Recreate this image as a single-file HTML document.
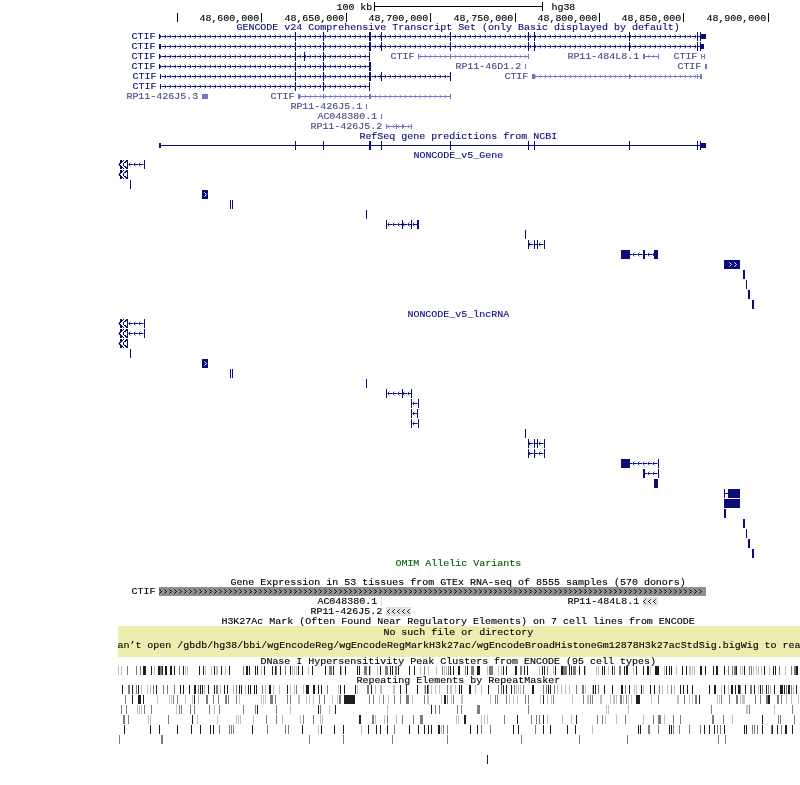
<!DOCTYPE html>
<html><head><meta charset="utf-8"><style>
html,body{margin:0;padding:0;background:#fff;width:800px;height:785px;overflow:hidden}
svg{display:block;will-change:transform}
text{font-family:"Liberation Mono",monospace;font-size:9px;letter-spacing:0px}
</style></head><body><svg width="800" height="785" viewBox="0 0 800 785" shape-rendering="crispEdges" font-family='"Liberation Mono", monospace' font-size="9" letter-spacing="0" stroke-width="0.12"><defs><pattern id="p1" patternUnits="userSpaceOnUse" x="-1" y="34" width="5" height="5"><rect x="0" y="0" width="1" height="1" fill="#b4b4e2"/><rect x="1" y="1" width="1" height="1" fill="#4444a0"/><rect x="1" y="3" width="1" height="1" fill="#4444a0"/><rect x="0" y="4" width="1" height="1" fill="#b4b4e2"/><rect x="2" y="2" width="1" height="1" fill="#8080c8"/></pattern><pattern id="p2" patternUnits="userSpaceOnUse" x="-1" y="44" width="5" height="5"><rect x="0" y="0" width="1" height="1" fill="#b4b4e2"/><rect x="1" y="1" width="1" height="1" fill="#4444a0"/><rect x="1" y="3" width="1" height="1" fill="#4444a0"/><rect x="0" y="4" width="1" height="1" fill="#b4b4e2"/><rect x="2" y="2" width="1" height="1" fill="#8080c8"/></pattern><pattern id="p3" patternUnits="userSpaceOnUse" x="-1" y="54" width="5" height="5"><rect x="0" y="0" width="1" height="1" fill="#b4b4e2"/><rect x="1" y="1" width="1" height="1" fill="#4444a0"/><rect x="1" y="3" width="1" height="1" fill="#4444a0"/><rect x="0" y="4" width="1" height="1" fill="#b4b4e2"/><rect x="2" y="2" width="1" height="1" fill="#8080c8"/></pattern><pattern id="p4" patternUnits="userSpaceOnUse" x="-1" y="54" width="5" height="5"><rect x="0" y="0" width="1" height="1" fill="#d0d0f0"/><rect x="1" y="1" width="1" height="1" fill="#9c9cdc"/><rect x="1" y="3" width="1" height="1" fill="#9c9cdc"/><rect x="0" y="4" width="1" height="1" fill="#d0d0f0"/><rect x="2" y="2" width="1" height="1" fill="#7474cc"/></pattern><pattern id="p5" patternUnits="userSpaceOnUse" x="2" y="54" width="5" height="5"><rect x="2" y="0" width="1" height="1" fill="#d0d0f0"/><rect x="1" y="1" width="1" height="1" fill="#9c9cdc"/><rect x="1" y="3" width="1" height="1" fill="#9c9cdc"/><rect x="2" y="4" width="1" height="1" fill="#d0d0f0"/><rect x="0" y="2" width="1" height="1" fill="#7474cc"/></pattern><pattern id="p6" patternUnits="userSpaceOnUse" x="-1" y="64" width="5" height="5"><rect x="0" y="0" width="1" height="1" fill="#b4b4e2"/><rect x="1" y="1" width="1" height="1" fill="#4444a0"/><rect x="1" y="3" width="1" height="1" fill="#4444a0"/><rect x="0" y="4" width="1" height="1" fill="#b4b4e2"/><rect x="2" y="2" width="1" height="1" fill="#8080c8"/></pattern><pattern id="p7" patternUnits="userSpaceOnUse" x="-1" y="74" width="5" height="5"><rect x="0" y="0" width="1" height="1" fill="#b4b4e2"/><rect x="1" y="1" width="1" height="1" fill="#4444a0"/><rect x="1" y="3" width="1" height="1" fill="#4444a0"/><rect x="0" y="4" width="1" height="1" fill="#b4b4e2"/><rect x="2" y="2" width="1" height="1" fill="#8080c8"/></pattern><pattern id="p8" patternUnits="userSpaceOnUse" x="-1" y="74" width="5" height="5"><rect x="0" y="0" width="1" height="1" fill="#d0d0f0"/><rect x="1" y="1" width="1" height="1" fill="#9c9cdc"/><rect x="1" y="3" width="1" height="1" fill="#9c9cdc"/><rect x="0" y="4" width="1" height="1" fill="#d0d0f0"/><rect x="2" y="2" width="1" height="1" fill="#7474cc"/></pattern><pattern id="p9" patternUnits="userSpaceOnUse" x="-1" y="84" width="5" height="5"><rect x="0" y="0" width="1" height="1" fill="#b4b4e2"/><rect x="1" y="1" width="1" height="1" fill="#4444a0"/><rect x="1" y="3" width="1" height="1" fill="#4444a0"/><rect x="0" y="4" width="1" height="1" fill="#b4b4e2"/><rect x="2" y="2" width="1" height="1" fill="#8080c8"/></pattern><pattern id="p10" patternUnits="userSpaceOnUse" x="-1" y="94" width="5" height="5"><rect x="0" y="0" width="1" height="1" fill="#d0d0f0"/><rect x="1" y="1" width="1" height="1" fill="#9c9cdc"/><rect x="1" y="3" width="1" height="1" fill="#9c9cdc"/><rect x="0" y="4" width="1" height="1" fill="#d0d0f0"/><rect x="2" y="2" width="1" height="1" fill="#7474cc"/></pattern><pattern id="p11" patternUnits="userSpaceOnUse" x="2" y="124" width="5" height="5"><rect x="2" y="0" width="1" height="1" fill="#d0d0f0"/><rect x="1" y="1" width="1" height="1" fill="#9c9cdc"/><rect x="1" y="3" width="1" height="1" fill="#9c9cdc"/><rect x="2" y="4" width="1" height="1" fill="#d0d0f0"/><rect x="0" y="2" width="1" height="1" fill="#7474cc"/></pattern><pattern id="p12" patternUnits="userSpaceOnUse" x="3" y="162" width="5" height="5"><rect x="2" y="0" width="1" height="1" fill="#b4b4e2"/><rect x="1" y="1" width="1" height="1" fill="#4444a0"/><rect x="1" y="3" width="1" height="1" fill="#4444a0"/><rect x="2" y="4" width="1" height="1" fill="#b4b4e2"/><rect x="0" y="2" width="1" height="1" fill="#8080c8"/></pattern><pattern id="p13" patternUnits="userSpaceOnUse" x="2" y="222" width="5" height="5"><rect x="2" y="0" width="1" height="1" fill="#b4b4e2"/><rect x="1" y="1" width="1" height="1" fill="#4444a0"/><rect x="1" y="3" width="1" height="1" fill="#4444a0"/><rect x="2" y="4" width="1" height="1" fill="#b4b4e2"/><rect x="0" y="2" width="1" height="1" fill="#8080c8"/></pattern><pattern id="p14" patternUnits="userSpaceOnUse" x="3" y="242" width="5" height="5"><rect x="2" y="0" width="1" height="1" fill="#b4b4e2"/><rect x="1" y="1" width="1" height="1" fill="#4444a0"/><rect x="1" y="3" width="1" height="1" fill="#4444a0"/><rect x="2" y="4" width="1" height="1" fill="#b4b4e2"/><rect x="0" y="2" width="1" height="1" fill="#8080c8"/></pattern><pattern id="p15" patternUnits="userSpaceOnUse" x="2" y="252" width="5" height="5"><rect x="2" y="0" width="1" height="1" fill="#b4b4e2"/><rect x="1" y="1" width="1" height="1" fill="#4444a0"/><rect x="1" y="3" width="1" height="1" fill="#4444a0"/><rect x="2" y="4" width="1" height="1" fill="#b4b4e2"/><rect x="0" y="2" width="1" height="1" fill="#8080c8"/></pattern><pattern id="p16" patternUnits="userSpaceOnUse" x="3" y="321" width="5" height="5"><rect x="2" y="0" width="1" height="1" fill="#b4b4e2"/><rect x="1" y="1" width="1" height="1" fill="#4444a0"/><rect x="1" y="3" width="1" height="1" fill="#4444a0"/><rect x="2" y="4" width="1" height="1" fill="#b4b4e2"/><rect x="0" y="2" width="1" height="1" fill="#8080c8"/></pattern><pattern id="p17" patternUnits="userSpaceOnUse" x="3" y="331" width="5" height="5"><rect x="2" y="0" width="1" height="1" fill="#b4b4e2"/><rect x="1" y="1" width="1" height="1" fill="#4444a0"/><rect x="1" y="3" width="1" height="1" fill="#4444a0"/><rect x="2" y="4" width="1" height="1" fill="#b4b4e2"/><rect x="0" y="2" width="1" height="1" fill="#8080c8"/></pattern><pattern id="p18" patternUnits="userSpaceOnUse" x="2" y="391" width="5" height="5"><rect x="2" y="0" width="1" height="1" fill="#b4b4e2"/><rect x="1" y="1" width="1" height="1" fill="#4444a0"/><rect x="1" y="3" width="1" height="1" fill="#4444a0"/><rect x="2" y="4" width="1" height="1" fill="#b4b4e2"/><rect x="0" y="2" width="1" height="1" fill="#8080c8"/></pattern><pattern id="p19" patternUnits="userSpaceOnUse" x="2" y="401" width="5" height="5"><rect x="2" y="0" width="1" height="1" fill="#b4b4e2"/><rect x="1" y="1" width="1" height="1" fill="#4444a0"/><rect x="1" y="3" width="1" height="1" fill="#4444a0"/><rect x="2" y="4" width="1" height="1" fill="#b4b4e2"/><rect x="0" y="2" width="1" height="1" fill="#8080c8"/></pattern><pattern id="p20" patternUnits="userSpaceOnUse" x="2" y="411" width="5" height="5"><rect x="2" y="0" width="1" height="1" fill="#b4b4e2"/><rect x="1" y="1" width="1" height="1" fill="#4444a0"/><rect x="1" y="3" width="1" height="1" fill="#4444a0"/><rect x="2" y="4" width="1" height="1" fill="#b4b4e2"/><rect x="0" y="2" width="1" height="1" fill="#8080c8"/></pattern><pattern id="p21" patternUnits="userSpaceOnUse" x="2" y="421" width="5" height="5"><rect x="2" y="0" width="1" height="1" fill="#b4b4e2"/><rect x="1" y="1" width="1" height="1" fill="#4444a0"/><rect x="1" y="3" width="1" height="1" fill="#4444a0"/><rect x="2" y="4" width="1" height="1" fill="#b4b4e2"/><rect x="0" y="2" width="1" height="1" fill="#8080c8"/></pattern><pattern id="p22" patternUnits="userSpaceOnUse" x="3" y="441" width="5" height="5"><rect x="2" y="0" width="1" height="1" fill="#b4b4e2"/><rect x="1" y="1" width="1" height="1" fill="#4444a0"/><rect x="1" y="3" width="1" height="1" fill="#4444a0"/><rect x="2" y="4" width="1" height="1" fill="#b4b4e2"/><rect x="0" y="2" width="1" height="1" fill="#8080c8"/></pattern><pattern id="p23" patternUnits="userSpaceOnUse" x="3" y="451" width="5" height="5"><rect x="2" y="0" width="1" height="1" fill="#b4b4e2"/><rect x="1" y="1" width="1" height="1" fill="#4444a0"/><rect x="1" y="3" width="1" height="1" fill="#4444a0"/><rect x="2" y="4" width="1" height="1" fill="#b4b4e2"/><rect x="0" y="2" width="1" height="1" fill="#8080c8"/></pattern><pattern id="p24" patternUnits="userSpaceOnUse" x="2" y="461" width="5" height="5"><rect x="2" y="0" width="1" height="1" fill="#b4b4e2"/><rect x="1" y="1" width="1" height="1" fill="#4444a0"/><rect x="1" y="3" width="1" height="1" fill="#4444a0"/><rect x="2" y="4" width="1" height="1" fill="#b4b4e2"/><rect x="0" y="2" width="1" height="1" fill="#8080c8"/></pattern><pattern id="p25" patternUnits="userSpaceOnUse" x="2" y="471" width="5" height="5"><rect x="2" y="0" width="1" height="1" fill="#b4b4e2"/><rect x="1" y="1" width="1" height="1" fill="#4444a0"/><rect x="1" y="3" width="1" height="1" fill="#4444a0"/><rect x="2" y="4" width="1" height="1" fill="#b4b4e2"/><rect x="0" y="2" width="1" height="1" fill="#8080c8"/></pattern><pattern id="gtexp" patternUnits="userSpaceOnUse" x="159" y="589" width="5" height="5"><rect x="0" y="0" width="1" height="1" fill="#3a3a3a"/><rect x="1" y="1" width="1" height="1" fill="#0a0a0a"/><rect x="2" y="2" width="1" height="1" fill="#1a1a1a"/><rect x="1" y="3" width="1" height="1" fill="#0a0a0a"/><rect x="0" y="4" width="1" height="1" fill="#3a3a3a"/></pattern><pattern id="gtexl1" patternUnits="userSpaceOnUse" x="643" y="599" width="5" height="5"><rect x="0" y="2" width="1" height="1" fill="#111"/><rect x="1" y="1" width="1" height="1" fill="#222"/><rect x="1" y="3" width="1" height="1" fill="#222"/><rect x="2" y="0" width="1" height="1" fill="#555"/><rect x="2" y="4" width="1" height="1" fill="#555"/></pattern><pattern id="gtexl2" patternUnits="userSpaceOnUse" x="387" y="609" width="5" height="5"><rect x="0" y="2" width="1" height="1" fill="#111"/><rect x="1" y="1" width="1" height="1" fill="#222"/><rect x="1" y="3" width="1" height="1" fill="#222"/><rect x="2" y="0" width="1" height="1" fill="#555"/><rect x="2" y="4" width="1" height="1" fill="#555"/></pattern></defs><rect width="800" height="785" fill="#fff"/><text x="302.760" y="10" fill="#000000" stroke="#000000" transform="scale(1.11111,1)">100 kb</text><rect x="374" y="2" width="1" height="9" fill="#000000"/><rect x="542" y="2" width="1" height="9" fill="#000000"/><rect x="374" y="6" width="169" height="1" fill="#000000"/><text x="496.260" y="10" fill="#000000" stroke="#000000" transform="scale(1.11111,1)">hg38</text><rect x="177" y="13" width="1" height="9" fill="#000000"/><rect x="261" y="13" width="1" height="9" fill="#000000"/><text x="179.460" y="21" fill="#000000" stroke="#000000" transform="scale(1.11111,1)">48,600,000</text><rect x="346" y="13" width="1" height="9" fill="#000000"/><text x="255.960" y="21" fill="#000000" stroke="#000000" transform="scale(1.11111,1)">48,650,000</text><rect x="430" y="13" width="1" height="9" fill="#000000"/><text x="331.560" y="21" fill="#000000" stroke="#000000" transform="scale(1.11111,1)">48,700,000</text><rect x="515" y="13" width="1" height="9" fill="#000000"/><text x="408.060" y="21" fill="#000000" stroke="#000000" transform="scale(1.11111,1)">48,750,000</text><rect x="599" y="13" width="1" height="9" fill="#000000"/><text x="483.660" y="21" fill="#000000" stroke="#000000" transform="scale(1.11111,1)">48,800,000</text><rect x="683" y="13" width="1" height="9" fill="#000000"/><text x="559.260" y="21" fill="#000000" stroke="#000000" transform="scale(1.11111,1)">48,850,000</text><rect x="768" y="13" width="1" height="9" fill="#000000"/><text x="635.760" y="21" fill="#000000" stroke="#000000" transform="scale(1.11111,1)">48,900,000</text><text x="212.760" y="30" fill="#0c0c78" stroke="#0c0c78" transform="scale(1.11111,1)">GENCODE v24 Comprehensive Transcript Set (only Basic displayed by default)</text><text x="118.260" y="39" fill="#0c0c78" stroke="#0c0c78" transform="scale(1.11111,1)">CTIF</text><rect x="159" y="36" width="547" height="1" fill="#0c0c78"/><rect x="160" y="34" width="135" height="5" fill="url(#p1)"/><rect x="296" y="34" width="27" height="5" fill="url(#p1)"/><rect x="324" y="34" width="45" height="5" fill="url(#p1)"/><rect x="371" y="34" width="10" height="5" fill="url(#p1)"/><rect x="382" y="34" width="68" height="5" fill="url(#p1)"/><rect x="451" y="34" width="77" height="5" fill="url(#p1)"/><rect x="529" y="34" width="5" height="5" fill="url(#p1)"/><rect x="535" y="34" width="94" height="5" fill="url(#p1)"/><rect x="630" y="34" width="67" height="5" fill="url(#p1)"/><rect x="159" y="34" width="1" height="5" fill="#0c0c78"/><rect x="295" y="32" width="1" height="9" fill="#0c0c78"/><rect x="323" y="32" width="1" height="9" fill="#0c0c78"/><rect x="369" y="32" width="2" height="9" fill="#0c0c78"/><rect x="381" y="32" width="1" height="9" fill="#0c0c78"/><rect x="450" y="32" width="1" height="9" fill="#0c0c78"/><rect x="528" y="32" width="1" height="9" fill="#0c0c78"/><rect x="534" y="32" width="1" height="9" fill="#0c0c78"/><rect x="629" y="32" width="1" height="9" fill="#0c0c78"/><rect x="697" y="32" width="1" height="9" fill="#0c0c78"/><rect x="700" y="32" width="1" height="9" fill="#0c0c78"/><rect x="701" y="34" width="5" height="5" fill="#0c0c78"/><text x="118.260" y="49" fill="#0c0c78" stroke="#0c0c78" transform="scale(1.11111,1)">CTIF</text><rect x="159" y="46" width="545" height="1" fill="#0c0c78"/><rect x="161" y="44" width="134" height="5" fill="url(#p2)"/><rect x="296" y="44" width="27" height="5" fill="url(#p2)"/><rect x="324" y="44" width="45" height="5" fill="url(#p2)"/><rect x="371" y="44" width="10" height="5" fill="url(#p2)"/><rect x="382" y="44" width="68" height="5" fill="url(#p2)"/><rect x="451" y="44" width="77" height="5" fill="url(#p2)"/><rect x="529" y="44" width="5" height="5" fill="url(#p2)"/><rect x="535" y="44" width="94" height="5" fill="url(#p2)"/><rect x="630" y="44" width="67" height="5" fill="url(#p2)"/><rect x="159" y="44" width="2" height="5" fill="#0c0c78"/><rect x="295" y="42" width="1" height="9" fill="#0c0c78"/><rect x="323" y="42" width="1" height="9" fill="#0c0c78"/><rect x="369" y="42" width="2" height="9" fill="#0c0c78"/><rect x="381" y="42" width="1" height="9" fill="#0c0c78"/><rect x="450" y="42" width="1" height="9" fill="#0c0c78"/><rect x="528" y="42" width="1" height="9" fill="#0c0c78"/><rect x="534" y="42" width="1" height="9" fill="#0c0c78"/><rect x="629" y="42" width="1" height="9" fill="#0c0c78"/><rect x="697" y="42" width="1" height="9" fill="#0c0c78"/><rect x="700" y="42" width="1" height="9" fill="#0c0c78"/><rect x="701" y="44" width="3" height="5" fill="#0c0c78"/><text x="118.260" y="59" fill="#0c0c78" stroke="#0c0c78" transform="scale(1.11111,1)">CTIF</text><rect x="159" y="56" width="211" height="1" fill="#0c0c78"/><rect x="160" y="54" width="135" height="5" fill="url(#p3)"/><rect x="296" y="54" width="8" height="5" fill="url(#p3)"/><rect x="305" y="54" width="18" height="5" fill="url(#p3)"/><rect x="324" y="54" width="45" height="5" fill="url(#p3)"/><rect x="159" y="54" width="1" height="5" fill="#0c0c78"/><rect x="295" y="52" width="1" height="9" fill="#0c0c78"/><rect x="304" y="52" width="1" height="9" fill="#0c0c78"/><rect x="323" y="52" width="1" height="9" fill="#0c0c78"/><rect x="369" y="52" width="1" height="9" fill="#0c0c78"/><text x="351.360" y="59" fill="#4a4a86" stroke="#4a4a86" transform="scale(1.11111,1)">CTIF</text><rect x="418" y="56" width="111" height="1" fill="#7474cc"/><rect x="419" y="54" width="31" height="5" fill="url(#p4)"/><rect x="451" y="54" width="77" height="5" fill="url(#p4)"/><rect x="418" y="54" width="1" height="5" fill="#7474cc"/><rect x="450" y="54" width="1" height="5" fill="#7474cc"/><rect x="528" y="54" width="1" height="5" fill="#7474cc"/><text x="510.660" y="59" fill="#4a4a86" stroke="#4a4a86" transform="scale(1.11111,1)">RP11-484L8.1</text><rect x="643" y="56" width="16" height="1" fill="#7474cc"/><rect x="645" y="54" width="13" height="5" fill="url(#p5)"/><rect x="643" y="54" width="2" height="5" fill="#7474cc"/><rect x="658" y="54" width="1" height="5" fill="#7474cc"/><text x="606.060" y="59" fill="#4a4a86" stroke="#4a4a86" transform="scale(1.11111,1)">CTIF</text><rect x="701" y="56" width="4" height="1" fill="#7474cc"/><rect x="701" y="54" width="1" height="5" fill="#7474cc"/><rect x="704" y="54" width="1" height="5" fill="#7474cc"/><text x="118.260" y="69" fill="#0c0c78" stroke="#0c0c78" transform="scale(1.11111,1)">CTIF</text><rect x="159" y="66" width="212" height="1" fill="#0c0c78"/><rect x="160" y="64" width="135" height="5" fill="url(#p6)"/><rect x="296" y="64" width="27" height="5" fill="url(#p6)"/><rect x="324" y="64" width="45" height="5" fill="url(#p6)"/><rect x="159" y="64" width="1" height="5" fill="#0c0c78"/><rect x="295" y="62" width="1" height="9" fill="#0c0c78"/><rect x="323" y="62" width="1" height="9" fill="#0c0c78"/><rect x="369" y="62" width="2" height="9" fill="#0c0c78"/><text x="409.860" y="69" fill="#4a4a86" stroke="#4a4a86" transform="scale(1.11111,1)">RP11-46D1.2</text><rect x="525" y="64" width="1" height="5" fill="#7474cc"/><text x="609.660" y="69" fill="#4a4a86" stroke="#4a4a86" transform="scale(1.11111,1)">CTIF</text><rect x="705" y="64" width="2" height="5" fill="#7474cc"/><text x="119.160" y="79" fill="#0c0c78" stroke="#0c0c78" transform="scale(1.11111,1)">CTIF</text><rect x="160" y="76" width="291" height="1" fill="#0c0c78"/><rect x="161" y="74" width="134" height="5" fill="url(#p7)"/><rect x="296" y="74" width="27" height="5" fill="url(#p7)"/><rect x="324" y="74" width="45" height="5" fill="url(#p7)"/><rect x="371" y="74" width="10" height="5" fill="url(#p7)"/><rect x="382" y="74" width="68" height="5" fill="url(#p7)"/><rect x="160" y="74" width="1" height="5" fill="#0c0c78"/><rect x="295" y="72" width="1" height="9" fill="#0c0c78"/><rect x="323" y="72" width="1" height="9" fill="#0c0c78"/><rect x="369" y="72" width="2" height="9" fill="#0c0c78"/><rect x="381" y="72" width="1" height="9" fill="#0c0c78"/><rect x="450" y="72" width="1" height="9" fill="#0c0c78"/><text x="453.960" y="79" fill="#4a4a86" stroke="#4a4a86" transform="scale(1.11111,1)">CTIF</text><rect x="532" y="76" width="170" height="1" fill="#7474cc"/><rect x="535" y="74" width="94" height="5" fill="url(#p8)"/><rect x="630" y="74" width="67" height="5" fill="url(#p8)"/><rect x="532" y="74" width="3" height="5" fill="#7474cc"/><rect x="629" y="74" width="1" height="5" fill="#7474cc"/><rect x="697" y="74" width="1" height="5" fill="#7474cc"/><rect x="700" y="74" width="2" height="5" fill="#7474cc"/><text x="119.160" y="89" fill="#0c0c78" stroke="#0c0c78" transform="scale(1.11111,1)">CTIF</text><rect x="160" y="86" width="210" height="1" fill="#0c0c78"/><rect x="161" y="84" width="134" height="5" fill="url(#p9)"/><rect x="296" y="84" width="27" height="5" fill="url(#p9)"/><rect x="324" y="84" width="45" height="5" fill="url(#p9)"/><rect x="160" y="84" width="1" height="5" fill="#0c0c78"/><rect x="295" y="82" width="1" height="9" fill="#0c0c78"/><rect x="323" y="82" width="1" height="9" fill="#0c0c78"/><rect x="369" y="82" width="1" height="9" fill="#0c0c78"/><text x="113.760" y="99" fill="#4a4a86" stroke="#4a4a86" transform="scale(1.11111,1)">RP11-426J5.3</text><rect x="202" y="94" width="6" height="5" fill="#7474cc"/><text x="243.360" y="99" fill="#4a4a86" stroke="#4a4a86" transform="scale(1.11111,1)">CTIF</text><rect x="298" y="96" width="153" height="1" fill="#7474cc"/><rect x="300" y="94" width="23" height="5" fill="url(#p10)"/><rect x="324" y="94" width="45" height="5" fill="url(#p10)"/><rect x="371" y="94" width="79" height="5" fill="url(#p10)"/><rect x="298" y="94" width="2" height="5" fill="#7474cc"/><rect x="323" y="94" width="1" height="5" fill="#7474cc"/><rect x="369" y="94" width="2" height="5" fill="#7474cc"/><rect x="450" y="94" width="1" height="5" fill="#7474cc"/><text x="261.360" y="109" fill="#4a4a86" stroke="#4a4a86" transform="scale(1.11111,1)">RP11-426J5.1</text><rect x="366" y="104" width="1" height="5" fill="#7474cc"/><text x="285.660" y="119" fill="#4a4a86" stroke="#4a4a86" transform="scale(1.11111,1)">AC048380.1</text><rect x="381" y="114" width="1" height="5" fill="#7474cc"/><text x="279.360" y="129" fill="#4a4a86" stroke="#4a4a86" transform="scale(1.11111,1)">RP11-426J5.2</text><rect x="386" y="126" width="26" height="1" fill="#7474cc"/><rect x="387" y="124" width="9" height="5" fill="url(#p11)"/><rect x="397" y="124" width="5" height="5" fill="url(#p11)"/><rect x="403" y="124" width="8" height="5" fill="url(#p11)"/><rect x="386" y="124" width="1" height="5" fill="#7474cc"/><rect x="396" y="124" width="1" height="5" fill="#7474cc"/><rect x="402" y="124" width="1" height="5" fill="#7474cc"/><rect x="411" y="124" width="1" height="5" fill="#7474cc"/><text x="323.460" y="139" fill="#0c0c78" stroke="#0c0c78" transform="scale(1.11111,1)">RefSeq gene predictions from NCBI</text><rect x="159" y="145" width="547" height="1" fill="#0c0c78"/><rect x="159" y="143" width="2" height="5" fill="#0c0c78"/><rect x="295" y="141" width="1" height="9" fill="#0c0c78"/><rect x="323" y="141" width="1" height="9" fill="#0c0c78"/><rect x="369" y="141" width="2" height="9" fill="#0c0c78"/><rect x="381" y="141" width="1" height="9" fill="#0c0c78"/><rect x="450" y="141" width="1" height="9" fill="#0c0c78"/><rect x="528" y="141" width="1" height="9" fill="#0c0c78"/><rect x="534" y="141" width="1" height="9" fill="#0c0c78"/><rect x="629" y="141" width="1" height="9" fill="#0c0c78"/><rect x="697" y="141" width="1" height="9" fill="#0c0c78"/><rect x="700" y="141" width="1" height="9" fill="#0c0c78"/><rect x="701" y="143" width="5" height="5" fill="#0c0c78"/><text x="372.060" y="158" fill="#0c0c78" stroke="#0c0c78" transform="scale(1.11111,1)">NONCODE_v5_Gene</text><rect x="118" y="164" width="1" height="1" fill="#8a8ac8"/><rect x="119" y="163" width="1" height="3" fill="#0c0c78"/><rect x="120" y="160" width="1" height="1" fill="#0c0c78"/><rect x="120" y="161" width="1" height="1" fill="#0c0c78"/><rect x="120" y="162" width="1" height="1" fill="#0c0c78"/><rect x="120" y="163" width="1" height="1" fill="#0c0c78"/><rect x="120" y="165" width="1" height="1" fill="#0c0c78"/><rect x="120" y="166" width="1" height="1" fill="#0c0c78"/><rect x="120" y="167" width="1" height="1" fill="#0c0c78"/><rect x="120" y="168" width="1" height="1" fill="#0c0c78"/><rect x="121" y="160" width="1" height="1" fill="#0c0c78"/><rect x="121" y="161" width="1" height="1" fill="#0c0c78"/><rect x="121" y="162" width="1" height="1" fill="#0c0c78"/><rect x="121" y="166" width="1" height="1" fill="#0c0c78"/><rect x="121" y="167" width="1" height="1" fill="#0c0c78"/><rect x="121" y="168" width="1" height="1" fill="#0c0c78"/><rect x="122" y="161" width="1" height="1" fill="#0c0c78"/><rect x="122" y="167" width="1" height="1" fill="#0c0c78"/><rect x="123" y="160" width="1" height="1" fill="#0c0c78"/><rect x="123" y="163" width="1" height="1" fill="#0c0c78"/><rect x="123" y="164" width="1" height="1" fill="#0c0c78"/><rect x="123" y="165" width="1" height="1" fill="#0c0c78"/><rect x="123" y="168" width="1" height="1" fill="#0c0c78"/><rect x="124" y="162" width="1" height="1" fill="#0c0c78"/><rect x="124" y="166" width="1" height="1" fill="#0c0c78"/><rect x="125" y="161" width="1" height="1" fill="#0c0c78"/><rect x="125" y="162" width="1" height="1" fill="#0c0c78"/><rect x="125" y="166" width="1" height="1" fill="#0c0c78"/><rect x="125" y="167" width="1" height="1" fill="#0c0c78"/><rect x="126" y="160" width="1" height="1" fill="#0c0c78"/><rect x="126" y="161" width="1" height="1" fill="#0c0c78"/><rect x="126" y="167" width="1" height="1" fill="#0c0c78"/><rect x="126" y="168" width="1" height="1" fill="#0c0c78"/><rect x="127" y="160" width="1" height="1" fill="#0c0c78"/><rect x="127" y="161" width="1" height="1" fill="#0c0c78"/><rect x="127" y="162" width="1" height="1" fill="#0c0c78"/><rect x="127" y="163" width="1" height="1" fill="#0c0c78"/><rect x="127" y="164" width="1" height="1" fill="#0c0c78"/><rect x="127" y="165" width="1" height="1" fill="#0c0c78"/><rect x="127" y="166" width="1" height="1" fill="#0c0c78"/><rect x="127" y="167" width="1" height="1" fill="#0c0c78"/><rect x="127" y="168" width="1" height="1" fill="#0c0c78"/><rect x="128" y="164" width="17" height="1" fill="#0c0c78"/><rect x="128" y="162" width="16" height="5" fill="url(#p12)"/><rect x="144" y="160" width="1" height="9" fill="#0c0c78"/><rect x="118" y="174" width="1" height="1" fill="#8a8ac8"/><rect x="119" y="173" width="1" height="3" fill="#0c0c78"/><rect x="120" y="170" width="1" height="1" fill="#0c0c78"/><rect x="120" y="171" width="1" height="1" fill="#0c0c78"/><rect x="120" y="172" width="1" height="1" fill="#0c0c78"/><rect x="120" y="173" width="1" height="1" fill="#0c0c78"/><rect x="120" y="175" width="1" height="1" fill="#0c0c78"/><rect x="120" y="176" width="1" height="1" fill="#0c0c78"/><rect x="120" y="177" width="1" height="1" fill="#0c0c78"/><rect x="120" y="178" width="1" height="1" fill="#0c0c78"/><rect x="121" y="170" width="1" height="1" fill="#0c0c78"/><rect x="121" y="171" width="1" height="1" fill="#0c0c78"/><rect x="121" y="172" width="1" height="1" fill="#0c0c78"/><rect x="121" y="176" width="1" height="1" fill="#0c0c78"/><rect x="121" y="177" width="1" height="1" fill="#0c0c78"/><rect x="121" y="178" width="1" height="1" fill="#0c0c78"/><rect x="122" y="171" width="1" height="1" fill="#0c0c78"/><rect x="122" y="177" width="1" height="1" fill="#0c0c78"/><rect x="123" y="170" width="1" height="1" fill="#0c0c78"/><rect x="123" y="173" width="1" height="1" fill="#0c0c78"/><rect x="123" y="174" width="1" height="1" fill="#0c0c78"/><rect x="123" y="175" width="1" height="1" fill="#0c0c78"/><rect x="123" y="178" width="1" height="1" fill="#0c0c78"/><rect x="124" y="172" width="1" height="1" fill="#0c0c78"/><rect x="124" y="176" width="1" height="1" fill="#0c0c78"/><rect x="125" y="171" width="1" height="1" fill="#0c0c78"/><rect x="125" y="172" width="1" height="1" fill="#0c0c78"/><rect x="125" y="176" width="1" height="1" fill="#0c0c78"/><rect x="125" y="177" width="1" height="1" fill="#0c0c78"/><rect x="126" y="170" width="1" height="1" fill="#0c0c78"/><rect x="126" y="171" width="1" height="1" fill="#0c0c78"/><rect x="126" y="177" width="1" height="1" fill="#0c0c78"/><rect x="126" y="178" width="1" height="1" fill="#0c0c78"/><rect x="127" y="170" width="1" height="1" fill="#0c0c78"/><rect x="127" y="171" width="1" height="1" fill="#0c0c78"/><rect x="127" y="172" width="1" height="1" fill="#0c0c78"/><rect x="127" y="173" width="1" height="1" fill="#0c0c78"/><rect x="127" y="174" width="1" height="1" fill="#0c0c78"/><rect x="127" y="175" width="1" height="1" fill="#0c0c78"/><rect x="127" y="176" width="1" height="1" fill="#0c0c78"/><rect x="127" y="177" width="1" height="1" fill="#0c0c78"/><rect x="127" y="178" width="1" height="1" fill="#0c0c78"/><rect x="130" y="180" width="1" height="9" fill="#0c0c78"/><rect x="202" y="190" width="6" height="9" fill="#0c0c78"/><rect x="204" y="192" width="1" height="1" fill="#9a9acc"/><rect x="205" y="193" width="1" height="1" fill="#fff"/><rect x="206" y="194" width="1" height="1" fill="#c8c8e6"/><rect x="205" y="195" width="1" height="1" fill="#fff"/><rect x="204" y="196" width="1" height="1" fill="#9a9acc"/><rect x="230" y="200" width="1" height="9" fill="#0c0c78"/><rect x="232" y="200" width="1" height="9" fill="#0c0c78"/><rect x="366" y="210" width="1" height="9" fill="#0c0c78"/><rect x="386" y="224" width="33" height="1" fill="#0c0c78"/><rect x="387" y="222" width="15" height="5" fill="url(#p13)"/><rect x="403" y="222" width="8" height="5" fill="url(#p13)"/><rect x="412" y="222" width="5" height="5" fill="url(#p13)"/><rect x="386" y="220" width="1" height="9" fill="#0c0c78"/><rect x="402" y="220" width="1" height="9" fill="#0c0c78"/><rect x="411" y="220" width="1" height="9" fill="#0c0c78"/><rect x="417" y="220" width="2" height="9" fill="#0c0c78"/><rect x="525" y="230" width="1" height="9" fill="#0c0c78"/><rect x="528" y="244" width="17" height="1" fill="#0c0c78"/><rect x="529" y="242" width="5" height="5" fill="url(#p14)"/><rect x="538" y="242" width="6" height="5" fill="url(#p14)"/><rect x="528" y="240" width="1" height="9" fill="#0c0c78"/><rect x="534" y="240" width="1" height="9" fill="#0c0c78"/><rect x="537" y="240" width="1" height="9" fill="#0c0c78"/><rect x="544" y="240" width="1" height="9" fill="#0c0c78"/><rect x="621" y="254" width="37" height="1" fill="#0c0c78"/><rect x="630" y="252" width="13" height="5" fill="url(#p15)"/><rect x="645" y="252" width="9" height="5" fill="url(#p15)"/><rect x="621" y="250" width="9" height="9" fill="#0c0c78"/><rect x="643" y="250" width="2" height="9" fill="#0c0c78"/><rect x="654" y="250" width="4" height="9" fill="#0c0c78"/><rect x="724" y="260" width="16" height="9" fill="#0c0c78"/><rect x="729" y="262" width="1" height="1" fill="#9a9acc"/><rect x="730" y="263" width="1" height="1" fill="#fff"/><rect x="731" y="264" width="1" height="1" fill="#c8c8e6"/><rect x="730" y="265" width="1" height="1" fill="#fff"/><rect x="729" y="266" width="1" height="1" fill="#9a9acc"/><rect x="734" y="262" width="1" height="1" fill="#9a9acc"/><rect x="735" y="263" width="1" height="1" fill="#fff"/><rect x="736" y="264" width="1" height="1" fill="#c8c8e6"/><rect x="735" y="265" width="1" height="1" fill="#fff"/><rect x="734" y="266" width="1" height="1" fill="#9a9acc"/><rect x="743" y="270" width="2" height="9" fill="#0c0c78"/><rect x="746" y="280" width="1" height="9" fill="#0c0c78"/><rect x="748" y="290" width="2" height="9" fill="#0c0c78"/><rect x="752" y="300" width="2" height="9" fill="#0c0c78"/><text x="366.660" y="317" fill="#0c0c78" stroke="#0c0c78" transform="scale(1.11111,1)">NONCODE_v5_lncRNA</text><rect x="118" y="323" width="1" height="1" fill="#8a8ac8"/><rect x="119" y="322" width="1" height="3" fill="#0c0c78"/><rect x="120" y="319" width="1" height="1" fill="#0c0c78"/><rect x="120" y="320" width="1" height="1" fill="#0c0c78"/><rect x="120" y="321" width="1" height="1" fill="#0c0c78"/><rect x="120" y="322" width="1" height="1" fill="#0c0c78"/><rect x="120" y="324" width="1" height="1" fill="#0c0c78"/><rect x="120" y="325" width="1" height="1" fill="#0c0c78"/><rect x="120" y="326" width="1" height="1" fill="#0c0c78"/><rect x="120" y="327" width="1" height="1" fill="#0c0c78"/><rect x="121" y="319" width="1" height="1" fill="#0c0c78"/><rect x="121" y="320" width="1" height="1" fill="#0c0c78"/><rect x="121" y="321" width="1" height="1" fill="#0c0c78"/><rect x="121" y="325" width="1" height="1" fill="#0c0c78"/><rect x="121" y="326" width="1" height="1" fill="#0c0c78"/><rect x="121" y="327" width="1" height="1" fill="#0c0c78"/><rect x="122" y="320" width="1" height="1" fill="#0c0c78"/><rect x="122" y="326" width="1" height="1" fill="#0c0c78"/><rect x="123" y="319" width="1" height="1" fill="#0c0c78"/><rect x="123" y="322" width="1" height="1" fill="#0c0c78"/><rect x="123" y="323" width="1" height="1" fill="#0c0c78"/><rect x="123" y="324" width="1" height="1" fill="#0c0c78"/><rect x="123" y="327" width="1" height="1" fill="#0c0c78"/><rect x="124" y="321" width="1" height="1" fill="#0c0c78"/><rect x="124" y="325" width="1" height="1" fill="#0c0c78"/><rect x="125" y="320" width="1" height="1" fill="#0c0c78"/><rect x="125" y="321" width="1" height="1" fill="#0c0c78"/><rect x="125" y="325" width="1" height="1" fill="#0c0c78"/><rect x="125" y="326" width="1" height="1" fill="#0c0c78"/><rect x="126" y="319" width="1" height="1" fill="#0c0c78"/><rect x="126" y="320" width="1" height="1" fill="#0c0c78"/><rect x="126" y="326" width="1" height="1" fill="#0c0c78"/><rect x="126" y="327" width="1" height="1" fill="#0c0c78"/><rect x="127" y="319" width="1" height="1" fill="#0c0c78"/><rect x="127" y="320" width="1" height="1" fill="#0c0c78"/><rect x="127" y="321" width="1" height="1" fill="#0c0c78"/><rect x="127" y="322" width="1" height="1" fill="#0c0c78"/><rect x="127" y="323" width="1" height="1" fill="#0c0c78"/><rect x="127" y="324" width="1" height="1" fill="#0c0c78"/><rect x="127" y="325" width="1" height="1" fill="#0c0c78"/><rect x="127" y="326" width="1" height="1" fill="#0c0c78"/><rect x="127" y="327" width="1" height="1" fill="#0c0c78"/><rect x="128" y="323" width="17" height="1" fill="#0c0c78"/><rect x="128" y="321" width="16" height="5" fill="url(#p16)"/><rect x="144" y="319" width="1" height="9" fill="#0c0c78"/><rect x="118" y="333" width="1" height="1" fill="#8a8ac8"/><rect x="119" y="332" width="1" height="3" fill="#0c0c78"/><rect x="120" y="329" width="1" height="1" fill="#0c0c78"/><rect x="120" y="330" width="1" height="1" fill="#0c0c78"/><rect x="120" y="331" width="1" height="1" fill="#0c0c78"/><rect x="120" y="332" width="1" height="1" fill="#0c0c78"/><rect x="120" y="334" width="1" height="1" fill="#0c0c78"/><rect x="120" y="335" width="1" height="1" fill="#0c0c78"/><rect x="120" y="336" width="1" height="1" fill="#0c0c78"/><rect x="120" y="337" width="1" height="1" fill="#0c0c78"/><rect x="121" y="329" width="1" height="1" fill="#0c0c78"/><rect x="121" y="330" width="1" height="1" fill="#0c0c78"/><rect x="121" y="331" width="1" height="1" fill="#0c0c78"/><rect x="121" y="335" width="1" height="1" fill="#0c0c78"/><rect x="121" y="336" width="1" height="1" fill="#0c0c78"/><rect x="121" y="337" width="1" height="1" fill="#0c0c78"/><rect x="122" y="330" width="1" height="1" fill="#0c0c78"/><rect x="122" y="336" width="1" height="1" fill="#0c0c78"/><rect x="123" y="329" width="1" height="1" fill="#0c0c78"/><rect x="123" y="332" width="1" height="1" fill="#0c0c78"/><rect x="123" y="333" width="1" height="1" fill="#0c0c78"/><rect x="123" y="334" width="1" height="1" fill="#0c0c78"/><rect x="123" y="337" width="1" height="1" fill="#0c0c78"/><rect x="124" y="331" width="1" height="1" fill="#0c0c78"/><rect x="124" y="335" width="1" height="1" fill="#0c0c78"/><rect x="125" y="330" width="1" height="1" fill="#0c0c78"/><rect x="125" y="331" width="1" height="1" fill="#0c0c78"/><rect x="125" y="335" width="1" height="1" fill="#0c0c78"/><rect x="125" y="336" width="1" height="1" fill="#0c0c78"/><rect x="126" y="329" width="1" height="1" fill="#0c0c78"/><rect x="126" y="330" width="1" height="1" fill="#0c0c78"/><rect x="126" y="336" width="1" height="1" fill="#0c0c78"/><rect x="126" y="337" width="1" height="1" fill="#0c0c78"/><rect x="127" y="329" width="1" height="1" fill="#0c0c78"/><rect x="127" y="330" width="1" height="1" fill="#0c0c78"/><rect x="127" y="331" width="1" height="1" fill="#0c0c78"/><rect x="127" y="332" width="1" height="1" fill="#0c0c78"/><rect x="127" y="333" width="1" height="1" fill="#0c0c78"/><rect x="127" y="334" width="1" height="1" fill="#0c0c78"/><rect x="127" y="335" width="1" height="1" fill="#0c0c78"/><rect x="127" y="336" width="1" height="1" fill="#0c0c78"/><rect x="127" y="337" width="1" height="1" fill="#0c0c78"/><rect x="128" y="333" width="17" height="1" fill="#0c0c78"/><rect x="128" y="331" width="16" height="5" fill="url(#p17)"/><rect x="144" y="329" width="1" height="9" fill="#0c0c78"/><rect x="118" y="343" width="1" height="1" fill="#8a8ac8"/><rect x="119" y="342" width="1" height="3" fill="#0c0c78"/><rect x="120" y="339" width="1" height="1" fill="#0c0c78"/><rect x="120" y="340" width="1" height="1" fill="#0c0c78"/><rect x="120" y="341" width="1" height="1" fill="#0c0c78"/><rect x="120" y="342" width="1" height="1" fill="#0c0c78"/><rect x="120" y="344" width="1" height="1" fill="#0c0c78"/><rect x="120" y="345" width="1" height="1" fill="#0c0c78"/><rect x="120" y="346" width="1" height="1" fill="#0c0c78"/><rect x="120" y="347" width="1" height="1" fill="#0c0c78"/><rect x="121" y="339" width="1" height="1" fill="#0c0c78"/><rect x="121" y="340" width="1" height="1" fill="#0c0c78"/><rect x="121" y="341" width="1" height="1" fill="#0c0c78"/><rect x="121" y="345" width="1" height="1" fill="#0c0c78"/><rect x="121" y="346" width="1" height="1" fill="#0c0c78"/><rect x="121" y="347" width="1" height="1" fill="#0c0c78"/><rect x="122" y="340" width="1" height="1" fill="#0c0c78"/><rect x="122" y="346" width="1" height="1" fill="#0c0c78"/><rect x="123" y="339" width="1" height="1" fill="#0c0c78"/><rect x="123" y="342" width="1" height="1" fill="#0c0c78"/><rect x="123" y="343" width="1" height="1" fill="#0c0c78"/><rect x="123" y="344" width="1" height="1" fill="#0c0c78"/><rect x="123" y="347" width="1" height="1" fill="#0c0c78"/><rect x="124" y="341" width="1" height="1" fill="#0c0c78"/><rect x="124" y="345" width="1" height="1" fill="#0c0c78"/><rect x="125" y="340" width="1" height="1" fill="#0c0c78"/><rect x="125" y="341" width="1" height="1" fill="#0c0c78"/><rect x="125" y="345" width="1" height="1" fill="#0c0c78"/><rect x="125" y="346" width="1" height="1" fill="#0c0c78"/><rect x="126" y="339" width="1" height="1" fill="#0c0c78"/><rect x="126" y="340" width="1" height="1" fill="#0c0c78"/><rect x="126" y="346" width="1" height="1" fill="#0c0c78"/><rect x="126" y="347" width="1" height="1" fill="#0c0c78"/><rect x="127" y="339" width="1" height="1" fill="#0c0c78"/><rect x="127" y="340" width="1" height="1" fill="#0c0c78"/><rect x="127" y="341" width="1" height="1" fill="#0c0c78"/><rect x="127" y="342" width="1" height="1" fill="#0c0c78"/><rect x="127" y="343" width="1" height="1" fill="#0c0c78"/><rect x="127" y="344" width="1" height="1" fill="#0c0c78"/><rect x="127" y="345" width="1" height="1" fill="#0c0c78"/><rect x="127" y="346" width="1" height="1" fill="#0c0c78"/><rect x="127" y="347" width="1" height="1" fill="#0c0c78"/><rect x="130" y="349" width="1" height="9" fill="#0c0c78"/><rect x="202" y="359" width="6" height="9" fill="#0c0c78"/><rect x="204" y="361" width="1" height="1" fill="#9a9acc"/><rect x="205" y="362" width="1" height="1" fill="#fff"/><rect x="206" y="363" width="1" height="1" fill="#c8c8e6"/><rect x="205" y="364" width="1" height="1" fill="#fff"/><rect x="204" y="365" width="1" height="1" fill="#9a9acc"/><rect x="230" y="369" width="1" height="9" fill="#0c0c78"/><rect x="232" y="369" width="1" height="9" fill="#0c0c78"/><rect x="366" y="379" width="1" height="9" fill="#0c0c78"/><rect x="386" y="393" width="26" height="1" fill="#0c0c78"/><rect x="387" y="391" width="15" height="5" fill="url(#p18)"/><rect x="403" y="391" width="8" height="5" fill="url(#p18)"/><rect x="386" y="389" width="1" height="9" fill="#0c0c78"/><rect x="402" y="389" width="1" height="9" fill="#0c0c78"/><rect x="411" y="389" width="1" height="9" fill="#0c0c78"/><rect x="411" y="403" width="8" height="1" fill="#0c0c78"/><rect x="412" y="401" width="6" height="5" fill="url(#p19)"/><rect x="411" y="399" width="1" height="9" fill="#0c0c78"/><rect x="418" y="399" width="1" height="9" fill="#0c0c78"/><rect x="411" y="413" width="7" height="1" fill="#0c0c78"/><rect x="412" y="411" width="5" height="5" fill="url(#p20)"/><rect x="411" y="409" width="1" height="9" fill="#0c0c78"/><rect x="417" y="409" width="1" height="9" fill="#0c0c78"/><rect x="411" y="423" width="8" height="1" fill="#0c0c78"/><rect x="412" y="421" width="6" height="5" fill="url(#p21)"/><rect x="411" y="419" width="1" height="9" fill="#0c0c78"/><rect x="418" y="419" width="1" height="9" fill="#0c0c78"/><rect x="525" y="429" width="1" height="9" fill="#0c0c78"/><rect x="528" y="443" width="17" height="1" fill="#0c0c78"/><rect x="529" y="441" width="5" height="5" fill="url(#p22)"/><rect x="538" y="441" width="6" height="5" fill="url(#p22)"/><rect x="528" y="439" width="1" height="9" fill="#0c0c78"/><rect x="534" y="439" width="1" height="9" fill="#0c0c78"/><rect x="537" y="439" width="1" height="9" fill="#0c0c78"/><rect x="544" y="439" width="1" height="9" fill="#0c0c78"/><rect x="528" y="453" width="17" height="1" fill="#0c0c78"/><rect x="529" y="451" width="5" height="5" fill="url(#p23)"/><rect x="535" y="451" width="9" height="5" fill="url(#p23)"/><rect x="528" y="449" width="1" height="9" fill="#0c0c78"/><rect x="534" y="449" width="1" height="9" fill="#0c0c78"/><rect x="544" y="449" width="1" height="9" fill="#0c0c78"/><rect x="621" y="463" width="38" height="1" fill="#0c0c78"/><rect x="630" y="461" width="28" height="5" fill="url(#p24)"/><rect x="621" y="459" width="9" height="9" fill="#0c0c78"/><rect x="658" y="459" width="1" height="9" fill="#0c0c78"/><rect x="643" y="473" width="16" height="1" fill="#0c0c78"/><rect x="645" y="471" width="13" height="5" fill="url(#p25)"/><rect x="643" y="469" width="2" height="9" fill="#0c0c78"/><rect x="658" y="469" width="1" height="9" fill="#0c0c78"/><rect x="654" y="479" width="4" height="9" fill="#0c0c78"/><rect x="724" y="493" width="16" height="1" fill="#0c0c78"/><rect x="724" y="489" width="1" height="9" fill="#0c0c78"/><rect x="728" y="489" width="12" height="9" fill="#0c0c78"/><rect x="724" y="499" width="16" height="9" fill="#0c0c78"/><rect x="724" y="509" width="2" height="9" fill="#0c0c78"/><rect x="743" y="519" width="2" height="9" fill="#0c0c78"/><rect x="746" y="529" width="1" height="9" fill="#0c0c78"/><rect x="748" y="539" width="2" height="9" fill="#0c0c78"/><rect x="752" y="549" width="2" height="9" fill="#0c0c78"/><text x="355.860" y="566" fill="#006000" stroke="#006000" transform="scale(1.11111,1)">OMIM Allelic Variants</text><text x="207.360" y="585" fill="#000000" stroke="#000000" transform="scale(1.11111,1)">Gene Expression in 53 tissues from GTEx RNA-seq of 8555 samples (570 donors)</text><text x="118.260" y="594" fill="#000000" stroke="#000000" transform="scale(1.11111,1)">CTIF</text><rect x="159" y="587" width="547" height="9" fill="#8e8e8e"/><rect x="159" y="589" width="545" height="5" fill="url(#gtexp)"/><text x="285.660" y="604" fill="#000000" stroke="#000000" transform="scale(1.11111,1)">AC048380.1</text><rect x="381" y="597" width="1" height="9" fill="#dcdcdc"/><text x="510.660" y="604" fill="#000000" stroke="#000000" transform="scale(1.11111,1)">RP11-484L8.1</text><rect x="643" y="597" width="15" height="9" fill="#e2e2e2"/><rect x="643" y="599" width="13" height="5" fill="url(#gtexl1)"/><text x="279.360" y="614" fill="#000000" stroke="#000000" transform="scale(1.11111,1)">RP11-426J5.2</text><rect x="386" y="607" width="25" height="9" fill="#e2e2e2"/><rect x="387" y="609" width="23" height="5" fill="url(#gtexl2)"/><text x="199.260" y="624" fill="#000000" stroke="#000000" transform="scale(1.11111,1)">H3K27Ac Mark (Often Found Near Regulatory Elements) on 7 cell lines from ENCODE</text><rect x="118" y="626" width="682" height="31" fill="#ededb0"/><text x="345.060" y="635" fill="#000000" stroke="#000000" transform="scale(1.11111,1)">No such file or directory</text><svg x="118" y="626" width="682" height="31" overflow="hidden"><text x="-5.940" y="22" fill="#000" stroke="#000" stroke-width="0.12" transform="scale(1.11111,1)">Can&#8217;t open /gbdb/hg38/bbi/wgEncodeReg/wgEncodeRegMarkH3k27ac/wgEncodeBroadHistoneGm12878H3k27acStdSig.bigWig to read</text></svg><text x="234.360" y="664" fill="#000000" stroke="#000000" transform="scale(1.11111,1)">DNase I Hypersensitivity Peak Clusters from ENCODE (95 cell types)</text><text x="320.760" y="683" fill="#000000" stroke="#000000" transform="scale(1.11111,1)">Repeating Elements by RepeatMasker</text><rect x="118" y="666" width="1" height="9" fill="#c0c0c0"/><rect x="121" y="666" width="1" height="9" fill="#c0c0c0"/><rect x="127" y="666" width="1" height="9" fill="#7c7c7c"/><rect x="136" y="666" width="1" height="9" fill="#7c7c7c"/><rect x="140" y="666" width="1" height="9" fill="#7c7c7c"/><rect x="143" y="666" width="3" height="9" fill="#1e1e1e"/><rect x="151" y="666" width="1" height="9" fill="#1e1e1e"/><rect x="154" y="666" width="1" height="9" fill="#c0c0c0"/><rect x="158" y="666" width="2" height="9" fill="#1e1e1e"/><rect x="160" y="666" width="2" height="9" fill="#7c7c7c"/><rect x="162" y="666" width="1" height="9" fill="#1e1e1e"/><rect x="165" y="666" width="2" height="9" fill="#1e1e1e"/><rect x="170" y="666" width="2" height="9" fill="#1e1e1e"/><rect x="174" y="666" width="1" height="9" fill="#1e1e1e"/><rect x="179" y="666" width="1" height="9" fill="#7c7c7c"/><rect x="183" y="666" width="1" height="9" fill="#1e1e1e"/><rect x="185" y="666" width="1" height="9" fill="#c0c0c0"/><rect x="187" y="666" width="1" height="9" fill="#c0c0c0"/><rect x="199" y="666" width="1" height="9" fill="#1e1e1e"/><rect x="203" y="666" width="1" height="9" fill="#1e1e1e"/><rect x="205" y="666" width="1" height="9" fill="#c0c0c0"/><rect x="211" y="666" width="1" height="9" fill="#c0c0c0"/><rect x="214" y="666" width="1" height="9" fill="#1e1e1e"/><rect x="122" y="685" width="1" height="9" fill="#1e1e1e"/><rect x="128" y="685" width="2" height="9" fill="#7c7c7c"/><rect x="132" y="685" width="1" height="9" fill="#1e1e1e"/><rect x="136" y="685" width="1" height="9" fill="#7c7c7c"/><rect x="138" y="685" width="1" height="9" fill="#1e1e1e"/><rect x="141" y="685" width="1" height="9" fill="#c0c0c0"/><rect x="147" y="685" width="1" height="9" fill="#c0c0c0"/><rect x="150" y="685" width="1" height="9" fill="#c0c0c0"/><rect x="153" y="685" width="1" height="9" fill="#7c7c7c"/><rect x="156" y="685" width="1" height="9" fill="#1e1e1e"/><rect x="163" y="685" width="1" height="9" fill="#7c7c7c"/><rect x="167" y="685" width="1" height="9" fill="#7c7c7c"/><rect x="174" y="685" width="1" height="9" fill="#7c7c7c"/><rect x="180" y="685" width="1" height="9" fill="#1e1e1e"/><rect x="183" y="685" width="1" height="9" fill="#1e1e1e"/><rect x="189" y="685" width="1" height="9" fill="#1e1e1e"/><rect x="194" y="685" width="2" height="9" fill="#1e1e1e"/><rect x="198" y="685" width="1" height="9" fill="#7c7c7c"/><rect x="200" y="685" width="1" height="9" fill="#1e1e1e"/><rect x="202" y="685" width="1" height="9" fill="#1e1e1e"/><rect x="204" y="685" width="1" height="9" fill="#c0c0c0"/><rect x="208" y="685" width="1" height="9" fill="#1e1e1e"/><rect x="214" y="685" width="1" height="9" fill="#1e1e1e"/><rect x="125" y="695" width="1" height="9" fill="#7c7c7c"/><rect x="132" y="695" width="1" height="9" fill="#1e1e1e"/><rect x="138" y="695" width="3" height="9" fill="#1e1e1e"/><rect x="143" y="695" width="1" height="9" fill="#1e1e1e"/><rect x="157" y="695" width="1" height="9" fill="#c0c0c0"/><rect x="169" y="695" width="1" height="9" fill="#c0c0c0"/><rect x="171" y="695" width="1" height="9" fill="#c0c0c0"/><rect x="173" y="695" width="1" height="9" fill="#7c7c7c"/><rect x="177" y="695" width="1" height="9" fill="#7c7c7c"/><rect x="185" y="695" width="1" height="9" fill="#c0c0c0"/><rect x="192" y="695" width="1" height="9" fill="#c0c0c0"/><rect x="194" y="695" width="1" height="9" fill="#1e1e1e"/><rect x="198" y="695" width="1" height="9" fill="#c0c0c0"/><rect x="206" y="695" width="2" height="9" fill="#7c7c7c"/><rect x="213" y="695" width="1" height="9" fill="#7c7c7c"/><rect x="121" y="705" width="1" height="9" fill="#7c7c7c"/><rect x="126" y="705" width="1" height="9" fill="#7c7c7c"/><rect x="137" y="705" width="1" height="9" fill="#c0c0c0"/><rect x="139" y="705" width="1" height="9" fill="#c0c0c0"/><rect x="141" y="705" width="1" height="9" fill="#c0c0c0"/><rect x="144" y="705" width="1" height="9" fill="#7c7c7c"/><rect x="151" y="705" width="1" height="9" fill="#7c7c7c"/><rect x="176" y="705" width="1" height="9" fill="#c0c0c0"/><rect x="179" y="705" width="1" height="9" fill="#7c7c7c"/><rect x="181" y="705" width="1" height="9" fill="#7c7c7c"/><rect x="190" y="705" width="1" height="9" fill="#7c7c7c"/><rect x="194" y="705" width="1" height="9" fill="#7c7c7c"/><rect x="209" y="705" width="1" height="9" fill="#7c7c7c"/><rect x="214" y="705" width="1" height="9" fill="#c0c0c0"/><rect x="123" y="715" width="2" height="9" fill="#7c7c7c"/><rect x="128" y="715" width="1" height="9" fill="#7c7c7c"/><rect x="148" y="715" width="1" height="9" fill="#c0c0c0"/><rect x="150" y="715" width="1" height="9" fill="#c0c0c0"/><rect x="168" y="715" width="1" height="9" fill="#7c7c7c"/><rect x="192" y="715" width="1" height="9" fill="#1e1e1e"/><rect x="197" y="715" width="1" height="9" fill="#c0c0c0"/><rect x="124" y="725" width="1" height="9" fill="#1e1e1e"/><rect x="150" y="725" width="1" height="9" fill="#1e1e1e"/><rect x="159" y="725" width="1" height="9" fill="#1e1e1e"/><rect x="177" y="725" width="1" height="9" fill="#1e1e1e"/><rect x="191" y="725" width="1" height="9" fill="#1e1e1e"/><rect x="200" y="725" width="1" height="9" fill="#1e1e1e"/><rect x="210" y="725" width="1" height="9" fill="#1e1e1e"/><rect x="213" y="725" width="1" height="9" fill="#1e1e1e"/><rect x="119" y="735" width="1" height="9" fill="#7c7c7c"/><rect x="161" y="735" width="2" height="9" fill="#7c7c7c"/><rect x="216" y="666" width="2" height="9" fill="#c0c0c0"/><rect x="221" y="666" width="1" height="9" fill="#1e1e1e"/><rect x="225" y="666" width="1" height="9" fill="#c0c0c0"/><rect x="229" y="666" width="1" height="9" fill="#1e1e1e"/><rect x="243" y="666" width="1" height="9" fill="#7c7c7c"/><rect x="246" y="666" width="2" height="9" fill="#1e1e1e"/><rect x="249" y="666" width="1" height="9" fill="#1e1e1e"/><rect x="255" y="666" width="1" height="9" fill="#1e1e1e"/><rect x="257" y="666" width="1" height="9" fill="#1e1e1e"/><rect x="261" y="666" width="1" height="9" fill="#c0c0c0"/><rect x="264" y="666" width="1" height="9" fill="#1e1e1e"/><rect x="272" y="666" width="1" height="9" fill="#1e1e1e"/><rect x="275" y="666" width="2" height="9" fill="#1e1e1e"/><rect x="276" y="666" width="1" height="9" fill="#7c7c7c"/><rect x="280" y="666" width="1" height="9" fill="#1e1e1e"/><rect x="285" y="666" width="1" height="9" fill="#7c7c7c"/><rect x="290" y="666" width="1" height="9" fill="#1e1e1e"/><rect x="292" y="666" width="1" height="9" fill="#c0c0c0"/><rect x="294" y="666" width="1" height="9" fill="#c0c0c0"/><rect x="296" y="666" width="1" height="9" fill="#c0c0c0"/><rect x="298" y="666" width="1" height="9" fill="#1e1e1e"/><rect x="302" y="666" width="1" height="9" fill="#1e1e1e"/><rect x="308" y="666" width="1" height="9" fill="#c0c0c0"/><rect x="312" y="666" width="1" height="9" fill="#1e1e1e"/><rect x="216" y="685" width="2" height="9" fill="#7c7c7c"/><rect x="220" y="685" width="1" height="9" fill="#c0c0c0"/><rect x="224" y="685" width="1" height="9" fill="#1e1e1e"/><rect x="227" y="685" width="1" height="9" fill="#1e1e1e"/><rect x="233" y="685" width="1" height="9" fill="#c0c0c0"/><rect x="236" y="685" width="1" height="9" fill="#7c7c7c"/><rect x="239" y="685" width="1" height="9" fill="#1e1e1e"/><rect x="241" y="685" width="1" height="9" fill="#1e1e1e"/><rect x="245" y="685" width="1" height="9" fill="#c0c0c0"/><rect x="248" y="685" width="1" height="9" fill="#1e1e1e"/><rect x="250" y="685" width="1" height="9" fill="#1e1e1e"/><rect x="254" y="685" width="1" height="9" fill="#1e1e1e"/><rect x="256" y="685" width="1" height="9" fill="#1e1e1e"/><rect x="262" y="685" width="1" height="9" fill="#7c7c7c"/><rect x="265" y="685" width="1" height="9" fill="#c0c0c0"/><rect x="269" y="685" width="2" height="9" fill="#1e1e1e"/><rect x="273" y="685" width="1" height="9" fill="#c0c0c0"/><rect x="279" y="685" width="1" height="9" fill="#c0c0c0"/><rect x="287" y="685" width="1" height="9" fill="#1e1e1e"/><rect x="290" y="685" width="1" height="9" fill="#c0c0c0"/><rect x="294" y="685" width="1" height="9" fill="#c0c0c0"/><rect x="296" y="685" width="1" height="9" fill="#7c7c7c"/><rect x="303" y="685" width="1" height="9" fill="#c0c0c0"/><rect x="306" y="685" width="3" height="9" fill="#1e1e1e"/><rect x="313" y="685" width="2" height="9" fill="#1e1e1e"/><rect x="218" y="695" width="1" height="9" fill="#7c7c7c"/><rect x="225" y="695" width="2" height="9" fill="#7c7c7c"/><rect x="228" y="695" width="1" height="9" fill="#7c7c7c"/><rect x="236" y="695" width="1" height="9" fill="#7c7c7c"/><rect x="239" y="695" width="1" height="9" fill="#c0c0c0"/><rect x="261" y="695" width="1" height="9" fill="#c0c0c0"/><rect x="263" y="695" width="1" height="9" fill="#c0c0c0"/><rect x="265" y="695" width="1" height="9" fill="#c0c0c0"/><rect x="270" y="695" width="3" height="9" fill="#7c7c7c"/><rect x="275" y="695" width="1" height="9" fill="#7c7c7c"/><rect x="287" y="695" width="1" height="9" fill="#7c7c7c"/><rect x="290" y="695" width="1" height="9" fill="#7c7c7c"/><rect x="298" y="695" width="2" height="9" fill="#c0c0c0"/><rect x="306" y="695" width="1" height="9" fill="#c0c0c0"/><rect x="309" y="695" width="1" height="9" fill="#c0c0c0"/><rect x="313" y="695" width="1" height="9" fill="#c0c0c0"/><rect x="219" y="705" width="1" height="9" fill="#7c7c7c"/><rect x="243" y="705" width="1" height="9" fill="#7c7c7c"/><rect x="255" y="705" width="1" height="9" fill="#7c7c7c"/><rect x="257" y="705" width="1" height="9" fill="#1e1e1e"/><rect x="276" y="705" width="1" height="9" fill="#7c7c7c"/><rect x="290" y="705" width="1" height="9" fill="#c0c0c0"/><rect x="217" y="715" width="1" height="9" fill="#c0c0c0"/><rect x="236" y="715" width="1" height="9" fill="#c0c0c0"/><rect x="238" y="715" width="1" height="9" fill="#c0c0c0"/><rect x="240" y="715" width="1" height="9" fill="#c0c0c0"/><rect x="253" y="715" width="1" height="9" fill="#c0c0c0"/><rect x="266" y="715" width="1" height="9" fill="#7c7c7c"/><rect x="276" y="715" width="1" height="9" fill="#7c7c7c"/><rect x="282" y="715" width="1" height="9" fill="#c0c0c0"/><rect x="300" y="715" width="1" height="9" fill="#c0c0c0"/><rect x="303" y="715" width="1" height="9" fill="#7c7c7c"/><rect x="313" y="715" width="1" height="9" fill="#7c7c7c"/><rect x="219" y="725" width="1" height="9" fill="#7c7c7c"/><rect x="229" y="725" width="1" height="9" fill="#7c7c7c"/><rect x="231" y="725" width="1" height="9" fill="#7c7c7c"/><rect x="233" y="725" width="1" height="9" fill="#7c7c7c"/><rect x="252" y="725" width="1" height="9" fill="#1e1e1e"/><rect x="267" y="725" width="1" height="9" fill="#7c7c7c"/><rect x="285" y="725" width="1" height="9" fill="#7c7c7c"/><rect x="288" y="725" width="1" height="9" fill="#7c7c7c"/><rect x="302" y="725" width="1" height="9" fill="#1e1e1e"/><rect x="309" y="735" width="1" height="9" fill="#7c7c7c"/><rect x="325" y="666" width="1" height="9" fill="#1e1e1e"/><rect x="329" y="666" width="3" height="9" fill="#7c7c7c"/><rect x="333" y="666" width="1" height="9" fill="#1e1e1e"/><rect x="340" y="666" width="1" height="9" fill="#1e1e1e"/><rect x="341" y="666" width="1" height="9" fill="#c0c0c0"/><rect x="345" y="666" width="1" height="9" fill="#1e1e1e"/><rect x="357" y="666" width="1" height="9" fill="#1e1e1e"/><rect x="359" y="666" width="1" height="9" fill="#1e1e1e"/><rect x="364" y="666" width="3" height="9" fill="#7c7c7c"/><rect x="369" y="666" width="1" height="9" fill="#1e1e1e"/><rect x="370" y="666" width="1" height="9" fill="#c0c0c0"/><rect x="377" y="666" width="1" height="9" fill="#c0c0c0"/><rect x="380" y="666" width="1" height="9" fill="#1e1e1e"/><rect x="385" y="666" width="3" height="9" fill="#7c7c7c"/><rect x="390" y="666" width="1" height="9" fill="#1e1e1e"/><rect x="392" y="666" width="1" height="9" fill="#1e1e1e"/><rect x="395" y="666" width="2" height="9" fill="#7c7c7c"/><rect x="398" y="666" width="1" height="9" fill="#1e1e1e"/><rect x="409" y="666" width="1" height="9" fill="#1e1e1e"/><rect x="414" y="666" width="1" height="9" fill="#1e1e1e"/><rect x="318" y="685" width="1" height="9" fill="#1e1e1e"/><rect x="321" y="685" width="1" height="9" fill="#1e1e1e"/><rect x="327" y="685" width="1" height="9" fill="#7c7c7c"/><rect x="338" y="685" width="1" height="9" fill="#c0c0c0"/><rect x="340" y="685" width="1" height="9" fill="#1e1e1e"/><rect x="344" y="685" width="1" height="9" fill="#1e1e1e"/><rect x="355" y="685" width="1" height="9" fill="#1e1e1e"/><rect x="357" y="685" width="1" height="9" fill="#c0c0c0"/><rect x="367" y="685" width="2" height="9" fill="#7c7c7c"/><rect x="371" y="685" width="1" height="9" fill="#1e1e1e"/><rect x="375" y="685" width="1" height="9" fill="#c0c0c0"/><rect x="380" y="685" width="2" height="9" fill="#c0c0c0"/><rect x="393" y="685" width="1" height="9" fill="#c0c0c0"/><rect x="394" y="685" width="1" height="9" fill="#c0c0c0"/><rect x="400" y="685" width="1" height="9" fill="#1e1e1e"/><rect x="406" y="685" width="1" height="9" fill="#1e1e1e"/><rect x="319" y="695" width="1" height="9" fill="#7c7c7c"/><rect x="324" y="695" width="1" height="9" fill="#7c7c7c"/><rect x="332" y="695" width="1" height="9" fill="#c0c0c0"/><rect x="337" y="695" width="1" height="9" fill="#c0c0c0"/><rect x="339" y="695" width="2" height="9" fill="#7c7c7c"/><rect x="344" y="695" width="11" height="9" fill="#1e1e1e"/><rect x="369" y="695" width="1" height="9" fill="#7c7c7c"/><rect x="373" y="695" width="1" height="9" fill="#7c7c7c"/><rect x="379" y="695" width="1" height="9" fill="#c0c0c0"/><rect x="383" y="695" width="1" height="9" fill="#7c7c7c"/><rect x="388" y="695" width="1" height="9" fill="#c0c0c0"/><rect x="394" y="695" width="1" height="9" fill="#7c7c7c"/><rect x="400" y="695" width="1" height="9" fill="#7c7c7c"/><rect x="406" y="695" width="3" height="9" fill="#7c7c7c"/><rect x="412" y="695" width="1" height="9" fill="#c0c0c0"/><rect x="318" y="705" width="1" height="9" fill="#1e1e1e"/><rect x="320" y="705" width="1" height="9" fill="#7c7c7c"/><rect x="329" y="705" width="1" height="9" fill="#c0c0c0"/><rect x="335" y="705" width="1" height="9" fill="#1e1e1e"/><rect x="387" y="705" width="1" height="9" fill="#c0c0c0"/><rect x="320" y="715" width="1" height="9" fill="#c0c0c0"/><rect x="322" y="715" width="1" height="9" fill="#c0c0c0"/><rect x="359" y="715" width="2" height="9" fill="#1e1e1e"/><rect x="372" y="715" width="2" height="9" fill="#7c7c7c"/><rect x="375" y="715" width="1" height="9" fill="#c0c0c0"/><rect x="384" y="715" width="1" height="9" fill="#c0c0c0"/><rect x="387" y="715" width="1" height="9" fill="#7c7c7c"/><rect x="396" y="715" width="1" height="9" fill="#c0c0c0"/><rect x="402" y="715" width="1" height="9" fill="#7c7c7c"/><rect x="413" y="715" width="1" height="9" fill="#7c7c7c"/><rect x="318" y="725" width="1" height="9" fill="#c0c0c0"/><rect x="321" y="725" width="1" height="9" fill="#1e1e1e"/><rect x="334" y="725" width="1" height="9" fill="#1e1e1e"/><rect x="343" y="725" width="1" height="9" fill="#1e1e1e"/><rect x="361" y="725" width="1" height="9" fill="#c0c0c0"/><rect x="368" y="725" width="1" height="9" fill="#1e1e1e"/><rect x="376" y="725" width="1" height="9" fill="#1e1e1e"/><rect x="380" y="725" width="1" height="9" fill="#1e1e1e"/><rect x="387" y="725" width="1" height="9" fill="#1e1e1e"/><rect x="394" y="725" width="1" height="9" fill="#7c7c7c"/><rect x="409" y="725" width="1" height="9" fill="#1e1e1e"/><rect x="343" y="735" width="1" height="9" fill="#7c7c7c"/><rect x="392" y="735" width="1" height="9" fill="#7c7c7c"/><rect x="420" y="666" width="1" height="9" fill="#c0c0c0"/><rect x="424" y="666" width="1" height="9" fill="#7c7c7c"/><rect x="428" y="666" width="1" height="9" fill="#c0c0c0"/><rect x="436" y="666" width="1" height="9" fill="#c0c0c0"/><rect x="442" y="666" width="1" height="9" fill="#7c7c7c"/><rect x="444" y="666" width="1" height="9" fill="#c0c0c0"/><rect x="446" y="666" width="1" height="9" fill="#c0c0c0"/><rect x="448" y="666" width="1" height="9" fill="#7c7c7c"/><rect x="450" y="666" width="1" height="9" fill="#1e1e1e"/><rect x="453" y="666" width="1" height="9" fill="#1e1e1e"/><rect x="458" y="666" width="2" height="9" fill="#1e1e1e"/><rect x="465" y="666" width="1" height="9" fill="#7c7c7c"/><rect x="467" y="666" width="1" height="9" fill="#1e1e1e"/><rect x="471" y="666" width="3" height="9" fill="#7c7c7c"/><rect x="477" y="666" width="3" height="9" fill="#1e1e1e"/><rect x="487" y="666" width="1" height="9" fill="#c0c0c0"/><rect x="489" y="666" width="4" height="9" fill="#7c7c7c"/><rect x="498" y="666" width="1" height="9" fill="#c0c0c0"/><rect x="501" y="666" width="1" height="9" fill="#c0c0c0"/><rect x="503" y="666" width="1" height="9" fill="#1e1e1e"/><rect x="506" y="666" width="1" height="9" fill="#1e1e1e"/><rect x="417" y="685" width="1" height="9" fill="#1e1e1e"/><rect x="424" y="685" width="1" height="9" fill="#c0c0c0"/><rect x="425" y="685" width="1" height="9" fill="#7c7c7c"/><rect x="427" y="685" width="1" height="9" fill="#1e1e1e"/><rect x="428" y="685" width="1" height="9" fill="#7c7c7c"/><rect x="431" y="685" width="1" height="9" fill="#c0c0c0"/><rect x="435" y="685" width="1" height="9" fill="#c0c0c0"/><rect x="439" y="685" width="1" height="9" fill="#c0c0c0"/><rect x="447" y="685" width="1" height="9" fill="#7c7c7c"/><rect x="450" y="685" width="2" height="9" fill="#c0c0c0"/><rect x="455" y="685" width="1" height="9" fill="#c0c0c0"/><rect x="459" y="685" width="1" height="9" fill="#1e1e1e"/><rect x="461" y="685" width="1" height="9" fill="#1e1e1e"/><rect x="469" y="685" width="2" height="9" fill="#1e1e1e"/><rect x="475" y="685" width="1" height="9" fill="#c0c0c0"/><rect x="481" y="685" width="1" height="9" fill="#c0c0c0"/><rect x="488" y="685" width="1" height="9" fill="#1e1e1e"/><rect x="498" y="685" width="1" height="9" fill="#7c7c7c"/><rect x="501" y="685" width="1" height="9" fill="#7c7c7c"/><rect x="503" y="685" width="1" height="9" fill="#1e1e1e"/><rect x="506" y="685" width="1" height="9" fill="#1e1e1e"/><rect x="511" y="685" width="1" height="9" fill="#1e1e1e"/><rect x="514" y="685" width="1" height="9" fill="#7c7c7c"/><rect x="424" y="695" width="1" height="9" fill="#7c7c7c"/><rect x="427" y="695" width="1" height="9" fill="#c0c0c0"/><rect x="428" y="695" width="1" height="9" fill="#c0c0c0"/><rect x="441" y="695" width="1" height="9" fill="#c0c0c0"/><rect x="444" y="695" width="2" height="9" fill="#1e1e1e"/><rect x="447" y="695" width="1" height="9" fill="#7c7c7c"/><rect x="451" y="695" width="1" height="9" fill="#c0c0c0"/><rect x="453" y="695" width="1" height="9" fill="#7c7c7c"/><rect x="461" y="695" width="2" height="9" fill="#c0c0c0"/><rect x="490" y="695" width="1" height="9" fill="#c0c0c0"/><rect x="495" y="695" width="1" height="9" fill="#7c7c7c"/><rect x="497" y="695" width="1" height="9" fill="#7c7c7c"/><rect x="506" y="695" width="1" height="9" fill="#7c7c7c"/><rect x="509" y="695" width="1" height="9" fill="#c0c0c0"/><rect x="513" y="695" width="1" height="9" fill="#c0c0c0"/><rect x="431" y="705" width="1" height="9" fill="#1e1e1e"/><rect x="435" y="705" width="1" height="9" fill="#7c7c7c"/><rect x="439" y="705" width="1" height="9" fill="#7c7c7c"/><rect x="457" y="705" width="1" height="9" fill="#7c7c7c"/><rect x="461" y="705" width="1" height="9" fill="#7c7c7c"/><rect x="477" y="705" width="3" height="9" fill="#7c7c7c"/><rect x="420" y="715" width="3" height="9" fill="#7c7c7c"/><rect x="456" y="715" width="1" height="9" fill="#c0c0c0"/><rect x="458" y="715" width="1" height="9" fill="#c0c0c0"/><rect x="464" y="715" width="2" height="9" fill="#1e1e1e"/><rect x="481" y="715" width="1" height="9" fill="#c0c0c0"/><rect x="484" y="715" width="1" height="9" fill="#c0c0c0"/><rect x="487" y="715" width="1" height="9" fill="#c0c0c0"/><rect x="504" y="715" width="1" height="9" fill="#7c7c7c"/><rect x="418" y="725" width="1" height="9" fill="#1e1e1e"/><rect x="424" y="725" width="1" height="9" fill="#1e1e1e"/><rect x="428" y="725" width="1" height="9" fill="#1e1e1e"/><rect x="431" y="725" width="1" height="9" fill="#1e1e1e"/><rect x="438" y="725" width="2" height="9" fill="#1e1e1e"/><rect x="441" y="725" width="1" height="9" fill="#c0c0c0"/><rect x="443" y="725" width="1" height="9" fill="#7c7c7c"/><rect x="447" y="725" width="1" height="9" fill="#7c7c7c"/><rect x="470" y="725" width="1" height="9" fill="#1e1e1e"/><rect x="477" y="725" width="1" height="9" fill="#1e1e1e"/><rect x="481" y="725" width="1" height="9" fill="#7c7c7c"/><rect x="490" y="725" width="1" height="9" fill="#7c7c7c"/><rect x="513" y="725" width="1" height="9" fill="#1e1e1e"/><rect x="447" y="735" width="1" height="9" fill="#7c7c7c"/><rect x="487" y="755" width="1" height="9" fill="#1e1e1e"/><rect x="515" y="666" width="2" height="9" fill="#1e1e1e"/><rect x="520" y="666" width="1" height="9" fill="#7c7c7c"/><rect x="521" y="666" width="1" height="9" fill="#7c7c7c"/><rect x="524" y="666" width="1" height="9" fill="#1e1e1e"/><rect x="527" y="666" width="1" height="9" fill="#1e1e1e"/><rect x="539" y="666" width="1" height="9" fill="#c0c0c0"/><rect x="542" y="666" width="1" height="9" fill="#1e1e1e"/><rect x="544" y="666" width="1" height="9" fill="#1e1e1e"/><rect x="547" y="666" width="1" height="9" fill="#7c7c7c"/><rect x="553" y="666" width="1" height="9" fill="#c0c0c0"/><rect x="555" y="666" width="1" height="9" fill="#1e1e1e"/><rect x="561" y="666" width="2" height="9" fill="#1e1e1e"/><rect x="563" y="666" width="4" height="9" fill="#7c7c7c"/><rect x="569" y="666" width="1" height="9" fill="#1e1e1e"/><rect x="571" y="666" width="1" height="9" fill="#1e1e1e"/><rect x="573" y="666" width="3" height="9" fill="#7c7c7c"/><rect x="579" y="666" width="1" height="9" fill="#1e1e1e"/><rect x="584" y="666" width="1" height="9" fill="#1e1e1e"/><rect x="585" y="666" width="1" height="9" fill="#c0c0c0"/><rect x="596" y="666" width="1" height="9" fill="#c0c0c0"/><rect x="598" y="666" width="1" height="9" fill="#c0c0c0"/><rect x="602" y="666" width="1" height="9" fill="#1e1e1e"/><rect x="604" y="666" width="1" height="9" fill="#1e1e1e"/><rect x="608" y="666" width="1" height="9" fill="#c0c0c0"/><rect x="612" y="666" width="1" height="9" fill="#1e1e1e"/><rect x="614" y="666" width="1" height="9" fill="#7c7c7c"/><rect x="516" y="685" width="1" height="9" fill="#c0c0c0"/><rect x="518" y="685" width="1" height="9" fill="#c0c0c0"/><rect x="520" y="685" width="1" height="9" fill="#c0c0c0"/><rect x="523" y="685" width="1" height="9" fill="#7c7c7c"/><rect x="532" y="685" width="2" height="9" fill="#1e1e1e"/><rect x="543" y="685" width="1" height="9" fill="#7c7c7c"/><rect x="546" y="685" width="1" height="9" fill="#7c7c7c"/><rect x="548" y="685" width="1" height="9" fill="#1e1e1e"/><rect x="550" y="685" width="1" height="9" fill="#1e1e1e"/><rect x="554" y="685" width="1" height="9" fill="#7c7c7c"/><rect x="557" y="685" width="1" height="9" fill="#c0c0c0"/><rect x="561" y="685" width="1" height="9" fill="#c0c0c0"/><rect x="565" y="685" width="1" height="9" fill="#c0c0c0"/><rect x="569" y="685" width="1" height="9" fill="#c0c0c0"/><rect x="576" y="685" width="1" height="9" fill="#7c7c7c"/><rect x="582" y="685" width="2" height="9" fill="#7c7c7c"/><rect x="585" y="685" width="1" height="9" fill="#c0c0c0"/><rect x="592" y="685" width="1" height="9" fill="#c0c0c0"/><rect x="593" y="685" width="1" height="9" fill="#1e1e1e"/><rect x="595" y="685" width="1" height="9" fill="#1e1e1e"/><rect x="598" y="685" width="1" height="9" fill="#7c7c7c"/><rect x="604" y="685" width="1" height="9" fill="#1e1e1e"/><rect x="612" y="685" width="1" height="9" fill="#1e1e1e"/><rect x="517" y="695" width="1" height="9" fill="#c0c0c0"/><rect x="525" y="695" width="1" height="9" fill="#7c7c7c"/><rect x="528" y="695" width="1" height="9" fill="#7c7c7c"/><rect x="540" y="695" width="1" height="9" fill="#c0c0c0"/><rect x="543" y="695" width="1" height="9" fill="#1e1e1e"/><rect x="547" y="695" width="1" height="9" fill="#c0c0c0"/><rect x="551" y="695" width="1" height="9" fill="#c0c0c0"/><rect x="553" y="695" width="1" height="9" fill="#7c7c7c"/><rect x="572" y="695" width="1" height="9" fill="#c0c0c0"/><rect x="583" y="695" width="1" height="9" fill="#7c7c7c"/><rect x="587" y="695" width="2" height="9" fill="#c0c0c0"/><rect x="590" y="695" width="1" height="9" fill="#7c7c7c"/><rect x="592" y="695" width="1" height="9" fill="#7c7c7c"/><rect x="600" y="695" width="2" height="9" fill="#c0c0c0"/><rect x="610" y="695" width="1" height="9" fill="#c0c0c0"/><rect x="613" y="695" width="2" height="9" fill="#c0c0c0"/><rect x="528" y="705" width="1" height="9" fill="#7c7c7c"/><rect x="606" y="705" width="1" height="9" fill="#c0c0c0"/><rect x="608" y="705" width="1" height="9" fill="#c0c0c0"/><rect x="517" y="715" width="1" height="9" fill="#1e1e1e"/><rect x="531" y="715" width="1" height="9" fill="#7c7c7c"/><rect x="536" y="715" width="1" height="9" fill="#7c7c7c"/><rect x="539" y="715" width="1" height="9" fill="#7c7c7c"/><rect x="543" y="715" width="1" height="9" fill="#1e1e1e"/><rect x="547" y="715" width="1" height="9" fill="#c0c0c0"/><rect x="562" y="715" width="1" height="9" fill="#c0c0c0"/><rect x="571" y="715" width="1" height="9" fill="#c0c0c0"/><rect x="576" y="715" width="1" height="9" fill="#1e1e1e"/><rect x="597" y="715" width="1" height="9" fill="#7c7c7c"/><rect x="602" y="715" width="1" height="9" fill="#7c7c7c"/><rect x="605" y="715" width="1" height="9" fill="#c0c0c0"/><rect x="518" y="725" width="1" height="9" fill="#1e1e1e"/><rect x="535" y="725" width="1" height="9" fill="#7c7c7c"/><rect x="543" y="725" width="1" height="9" fill="#1e1e1e"/><rect x="550" y="725" width="1" height="9" fill="#1e1e1e"/><rect x="567" y="725" width="1" height="9" fill="#1e1e1e"/><rect x="575" y="725" width="1" height="9" fill="#1e1e1e"/><rect x="592" y="725" width="1" height="9" fill="#c0c0c0"/><rect x="521" y="735" width="1" height="9" fill="#7c7c7c"/><rect x="579" y="735" width="1" height="9" fill="#7c7c7c"/><rect x="619" y="666" width="2" height="9" fill="#7c7c7c"/><rect x="624" y="666" width="1" height="9" fill="#1e1e1e"/><rect x="626" y="666" width="2" height="9" fill="#1e1e1e"/><rect x="633" y="666" width="1" height="9" fill="#c0c0c0"/><rect x="636" y="666" width="1" height="9" fill="#1e1e1e"/><rect x="643" y="666" width="1" height="9" fill="#1e1e1e"/><rect x="647" y="666" width="2" height="9" fill="#1e1e1e"/><rect x="650" y="666" width="1" height="9" fill="#c0c0c0"/><rect x="655" y="666" width="4" height="9" fill="#1e1e1e"/><rect x="664" y="666" width="1" height="9" fill="#c0c0c0"/><rect x="666" y="666" width="1" height="9" fill="#1e1e1e"/><rect x="669" y="666" width="1" height="9" fill="#1e1e1e"/><rect x="671" y="666" width="1" height="9" fill="#1e1e1e"/><rect x="676" y="666" width="1" height="9" fill="#c0c0c0"/><rect x="682" y="666" width="1" height="9" fill="#1e1e1e"/><rect x="686" y="666" width="1" height="9" fill="#1e1e1e"/><rect x="689" y="666" width="1" height="9" fill="#c0c0c0"/><rect x="690" y="666" width="1" height="9" fill="#c0c0c0"/><rect x="692" y="666" width="1" height="9" fill="#c0c0c0"/><rect x="694" y="666" width="1" height="9" fill="#c0c0c0"/><rect x="621" y="685" width="2" height="9" fill="#1e1e1e"/><rect x="625" y="685" width="1" height="9" fill="#7c7c7c"/><rect x="629" y="685" width="1" height="9" fill="#1e1e1e"/><rect x="634" y="685" width="1" height="9" fill="#c0c0c0"/><rect x="636" y="685" width="1" height="9" fill="#c0c0c0"/><rect x="641" y="685" width="1" height="9" fill="#1e1e1e"/><rect x="643" y="685" width="1" height="9" fill="#c0c0c0"/><rect x="650" y="685" width="1" height="9" fill="#1e1e1e"/><rect x="654" y="685" width="1" height="9" fill="#1e1e1e"/><rect x="659" y="685" width="1" height="9" fill="#7c7c7c"/><rect x="662" y="685" width="1" height="9" fill="#c0c0c0"/><rect x="667" y="685" width="1" height="9" fill="#c0c0c0"/><rect x="671" y="685" width="1" height="9" fill="#7c7c7c"/><rect x="674" y="685" width="1" height="9" fill="#c0c0c0"/><rect x="680" y="685" width="1" height="9" fill="#1e1e1e"/><rect x="683" y="685" width="1" height="9" fill="#1e1e1e"/><rect x="687" y="685" width="1" height="9" fill="#1e1e1e"/><rect x="692" y="685" width="1" height="9" fill="#1e1e1e"/><rect x="616" y="695" width="1" height="9" fill="#c0c0c0"/><rect x="620" y="695" width="2" height="9" fill="#7c7c7c"/><rect x="623" y="695" width="1" height="9" fill="#c0c0c0"/><rect x="626" y="695" width="1" height="9" fill="#7c7c7c"/><rect x="628" y="695" width="1" height="9" fill="#c0c0c0"/><rect x="631" y="695" width="1" height="9" fill="#c0c0c0"/><rect x="636" y="695" width="4" height="9" fill="#1e1e1e"/><rect x="651" y="695" width="1" height="9" fill="#c0c0c0"/><rect x="658" y="695" width="1" height="9" fill="#7c7c7c"/><rect x="677" y="695" width="2" height="9" fill="#c0c0c0"/><rect x="684" y="695" width="1" height="9" fill="#7c7c7c"/><rect x="689" y="695" width="1" height="9" fill="#c0c0c0"/><rect x="692" y="695" width="1" height="9" fill="#c0c0c0"/><rect x="695" y="695" width="2" height="9" fill="#7c7c7c"/><rect x="699" y="695" width="1" height="9" fill="#1e1e1e"/><rect x="628" y="705" width="1" height="9" fill="#c0c0c0"/><rect x="616" y="715" width="1" height="9" fill="#c0c0c0"/><rect x="625" y="715" width="1" height="9" fill="#7c7c7c"/><rect x="643" y="715" width="1" height="9" fill="#c0c0c0"/><rect x="653" y="715" width="1" height="9" fill="#7c7c7c"/><rect x="658" y="715" width="3" height="9" fill="#7c7c7c"/><rect x="664" y="715" width="1" height="9" fill="#c0c0c0"/><rect x="673" y="715" width="1" height="9" fill="#7c7c7c"/><rect x="680" y="715" width="1" height="9" fill="#7c7c7c"/><rect x="638" y="725" width="1" height="9" fill="#1e1e1e"/><rect x="640" y="725" width="1" height="9" fill="#1e1e1e"/><rect x="648" y="725" width="2" height="9" fill="#7c7c7c"/><rect x="658" y="725" width="1" height="9" fill="#7c7c7c"/><rect x="669" y="725" width="1" height="9" fill="#1e1e1e"/><rect x="671" y="725" width="1" height="9" fill="#1e1e1e"/><rect x="673" y="725" width="1" height="9" fill="#7c7c7c"/><rect x="679" y="725" width="1" height="9" fill="#7c7c7c"/><rect x="689" y="725" width="1" height="9" fill="#7c7c7c"/><rect x="700" y="725" width="1" height="9" fill="#7c7c7c"/><rect x="627" y="735" width="1" height="9" fill="#7c7c7c"/><rect x="700" y="666" width="2" height="9" fill="#1e1e1e"/><rect x="705" y="666" width="1" height="9" fill="#1e1e1e"/><rect x="713" y="666" width="1" height="9" fill="#1e1e1e"/><rect x="716" y="666" width="2" height="9" fill="#1e1e1e"/><rect x="724" y="666" width="1" height="9" fill="#1e1e1e"/><rect x="728" y="666" width="1" height="9" fill="#7c7c7c"/><rect x="732" y="666" width="1" height="9" fill="#7c7c7c"/><rect x="734" y="666" width="2" height="9" fill="#7c7c7c"/><rect x="736" y="666" width="1" height="9" fill="#1e1e1e"/><rect x="740" y="666" width="1" height="9" fill="#c0c0c0"/><rect x="742" y="666" width="1" height="9" fill="#c0c0c0"/><rect x="744" y="666" width="1" height="9" fill="#1e1e1e"/><rect x="749" y="666" width="1" height="9" fill="#7c7c7c"/><rect x="751" y="666" width="1" height="9" fill="#7c7c7c"/><rect x="753" y="666" width="1" height="9" fill="#c0c0c0"/><rect x="756" y="666" width="1" height="9" fill="#c0c0c0"/><rect x="758" y="666" width="1" height="9" fill="#c0c0c0"/><rect x="761" y="666" width="1" height="9" fill="#c0c0c0"/><rect x="764" y="666" width="1" height="9" fill="#1e1e1e"/><rect x="769" y="666" width="1" height="9" fill="#c0c0c0"/><rect x="773" y="666" width="1" height="9" fill="#1e1e1e"/><rect x="775" y="666" width="1" height="9" fill="#1e1e1e"/><rect x="779" y="666" width="1" height="9" fill="#7c7c7c"/><rect x="785" y="666" width="1" height="9" fill="#c0c0c0"/><rect x="791" y="666" width="1" height="9" fill="#7c7c7c"/><rect x="794" y="666" width="2" height="9" fill="#7c7c7c"/><rect x="796" y="666" width="2" height="9" fill="#1e1e1e"/><rect x="709" y="685" width="1" height="9" fill="#1e1e1e"/><rect x="714" y="685" width="2" height="9" fill="#1e1e1e"/><rect x="721" y="685" width="1" height="9" fill="#c0c0c0"/><rect x="724" y="685" width="1" height="9" fill="#1e1e1e"/><rect x="728" y="685" width="1" height="9" fill="#c0c0c0"/><rect x="731" y="685" width="2" height="9" fill="#1e1e1e"/><rect x="735" y="685" width="1" height="9" fill="#1e1e1e"/><rect x="738" y="685" width="2" height="9" fill="#1e1e1e"/><rect x="740" y="685" width="1" height="9" fill="#7c7c7c"/><rect x="745" y="685" width="1" height="9" fill="#1e1e1e"/><rect x="750" y="685" width="2" height="9" fill="#7c7c7c"/><rect x="754" y="685" width="1" height="9" fill="#1e1e1e"/><rect x="758" y="685" width="1" height="9" fill="#c0c0c0"/><rect x="760" y="685" width="1" height="9" fill="#1e1e1e"/><rect x="762" y="685" width="1" height="9" fill="#7c7c7c"/><rect x="766" y="685" width="1" height="9" fill="#1e1e1e"/><rect x="768" y="685" width="1" height="9" fill="#7c7c7c"/><rect x="770" y="685" width="1" height="9" fill="#c0c0c0"/><rect x="774" y="685" width="1" height="9" fill="#1e1e1e"/><rect x="780" y="685" width="2" height="9" fill="#1e1e1e"/><rect x="782" y="685" width="1" height="9" fill="#1e1e1e"/><rect x="784" y="685" width="1" height="9" fill="#1e1e1e"/><rect x="786" y="685" width="1" height="9" fill="#7c7c7c"/><rect x="788" y="685" width="2" height="9" fill="#1e1e1e"/><rect x="791" y="685" width="1" height="9" fill="#7c7c7c"/><rect x="793" y="685" width="1" height="9" fill="#c0c0c0"/><rect x="796" y="685" width="1" height="9" fill="#1e1e1e"/><rect x="717" y="695" width="1" height="9" fill="#c0c0c0"/><rect x="719" y="695" width="1" height="9" fill="#c0c0c0"/><rect x="721" y="695" width="1" height="9" fill="#7c7c7c"/><rect x="729" y="695" width="1" height="9" fill="#7c7c7c"/><rect x="736" y="695" width="2" height="9" fill="#7c7c7c"/><rect x="740" y="695" width="1" height="9" fill="#c0c0c0"/><rect x="742" y="695" width="3" height="9" fill="#c0c0c0"/><rect x="755" y="695" width="1" height="9" fill="#7c7c7c"/><rect x="760" y="695" width="1" height="9" fill="#7c7c7c"/><rect x="766" y="695" width="2" height="9" fill="#7c7c7c"/><rect x="768" y="695" width="2" height="9" fill="#1e1e1e"/><rect x="777" y="695" width="2" height="9" fill="#7c7c7c"/><rect x="781" y="695" width="1" height="9" fill="#7c7c7c"/><rect x="786" y="695" width="1" height="9" fill="#c0c0c0"/><rect x="791" y="695" width="1" height="9" fill="#c0c0c0"/><rect x="798" y="695" width="1" height="9" fill="#c0c0c0"/><rect x="711" y="705" width="1" height="9" fill="#7c7c7c"/><rect x="746" y="705" width="2" height="9" fill="#c0c0c0"/><rect x="749" y="705" width="1" height="9" fill="#7c7c7c"/><rect x="774" y="705" width="1" height="9" fill="#c0c0c0"/><rect x="792" y="705" width="1" height="9" fill="#7c7c7c"/><rect x="712" y="715" width="2" height="9" fill="#7c7c7c"/><rect x="723" y="715" width="1" height="9" fill="#7c7c7c"/><rect x="732" y="715" width="1" height="9" fill="#c0c0c0"/><rect x="762" y="715" width="1" height="9" fill="#1e1e1e"/><rect x="778" y="715" width="1" height="9" fill="#7c7c7c"/><rect x="780" y="715" width="1" height="9" fill="#7c7c7c"/><rect x="794" y="715" width="1" height="9" fill="#7c7c7c"/><rect x="704" y="725" width="1" height="9" fill="#1e1e1e"/><rect x="709" y="725" width="1" height="9" fill="#1e1e1e"/><rect x="714" y="725" width="1" height="9" fill="#1e1e1e"/><rect x="717" y="725" width="1" height="9" fill="#7c7c7c"/><rect x="720" y="725" width="1" height="9" fill="#7c7c7c"/><rect x="724" y="725" width="1" height="9" fill="#1e1e1e"/><rect x="744" y="725" width="1" height="9" fill="#1e1e1e"/><rect x="746" y="725" width="1" height="9" fill="#1e1e1e"/><rect x="752" y="725" width="1" height="9" fill="#7c7c7c"/><rect x="754" y="725" width="1" height="9" fill="#7c7c7c"/><rect x="757" y="725" width="1" height="9" fill="#7c7c7c"/><rect x="762" y="725" width="1" height="9" fill="#1e1e1e"/><rect x="771" y="725" width="2" height="9" fill="#7c7c7c"/><rect x="772" y="725" width="1" height="9" fill="#1e1e1e"/><rect x="777" y="725" width="1" height="9" fill="#1e1e1e"/><rect x="781" y="725" width="1" height="9" fill="#7c7c7c"/><rect x="785" y="725" width="2" height="9" fill="#1e1e1e"/><rect x="792" y="725" width="1" height="9" fill="#1e1e1e"/><rect x="718" y="735" width="1" height="9" fill="#7c7c7c"/><rect x="725" y="735" width="1" height="9" fill="#7c7c7c"/></svg></body></html>
